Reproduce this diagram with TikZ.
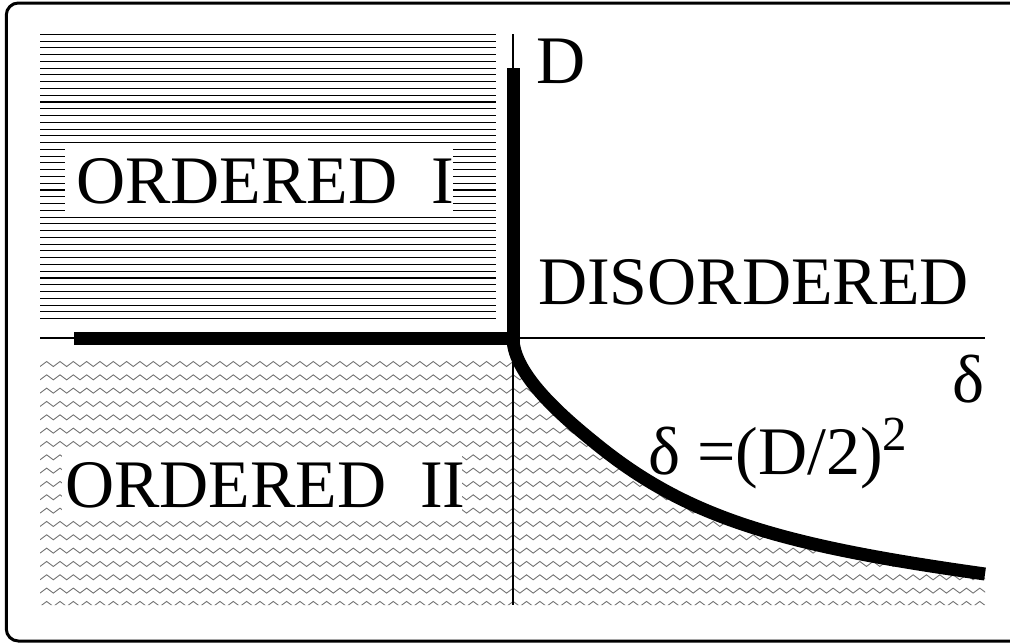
\documentclass[tikz,border=0pt]{standalone}
\usepackage{fontspec}
\setmainfont{Liberation Serif}
\tikzset{
  frame/.style={line width=3pt, rounded corners=12pt},
  thinaxis/.style={line width=1.3pt},
  thickline/.style={line width=13pt, line join=miter},
  hatchline/.style={line width=1.1pt},
  zig/.style={black!55, line width=0.9pt, line join=miter},
  lbl/.style={font=\fontsize{68}{68}\selectfont, inner sep=0pt, anchor=base west},
  whitebox/.style={fill=white, draw=none},
}
\begin{document}
\begin{tikzpicture}[x=1pt,y=-1pt]
\useasboundingbox (0,0) rectangle (1010,643);
\draw[frame] (6.3,3) rectangle (1030,641);
% horizontal hatching (ordered I)
\foreach \i in {0,...,42}
  \draw[hatchline] (40,{34.3+6.77*\i}) -- (496,{34.3+6.77*\i});
\fill[whitebox] (65,143) rectangle (453,212);
\node[lbl] (ord1) at (76,203) {ORDERED\ \ I};
% zigzag region (ordered II)
\begin{scope}
  \clip (513,338) .. controls (513,375) and (565,419) .. (600,447) .. controls (690,519) and (785,546) .. (985,574)
    -- (985,605) -- (40,605) -- (40,345) -- (513,345) -- cycle;
  \foreach \k in {0,...,18}{
    \pgfmathsetmacro{\yy}{364+13.33*\k}
    \draw[zig] (40,\yy+2.5)
      \foreach \j in {1,...,71}{ -- ({40+13.33*\j-6.665},\yy-2.5) -- ({40+13.33*\j},\yy+2.5) };
  }
\end{scope}
\fill[whitebox] (62,448) rectangle (462,515);
\node[lbl] (ord2) at (65,507) {ORDERED\ \ II};
% axes
\coordinate (O) at (513,338);
\coordinate (Dtop) at (513,34);
\coordinate (Dbot) at (513,605);
\coordinate (Xl) at (40,338);
\coordinate (Xr) at (985,338);
\coordinate (Hstart) at (74,338);
\coordinate (Vtop) at (513,68);
\coordinate (Cend) at (985,574);
\draw[thinaxis] (Dtop) -- (Dbot);
\draw[thinaxis] (Xl) -- (Xr);
\draw[thickline] (Hstart) -- (O) -- (Vtop);
\draw[thickline] (O) .. controls (513,375) and (565,419) .. (600,447) .. controls (690,519) and (785,546) .. (Cend);
% labels
\node[lbl] (Dlab) at (536,83) {D};
\node[lbl] (dis) at (538,304) {DISORDERED};
\node[lbl] (dlab) at (952,402) {δ};
\node[lbl] (eq) at (648,474) {δ =(D/2)\raisebox{24pt}{\fontsize{49}{49}\selectfont 2}};
\end{tikzpicture}
\end{document}
